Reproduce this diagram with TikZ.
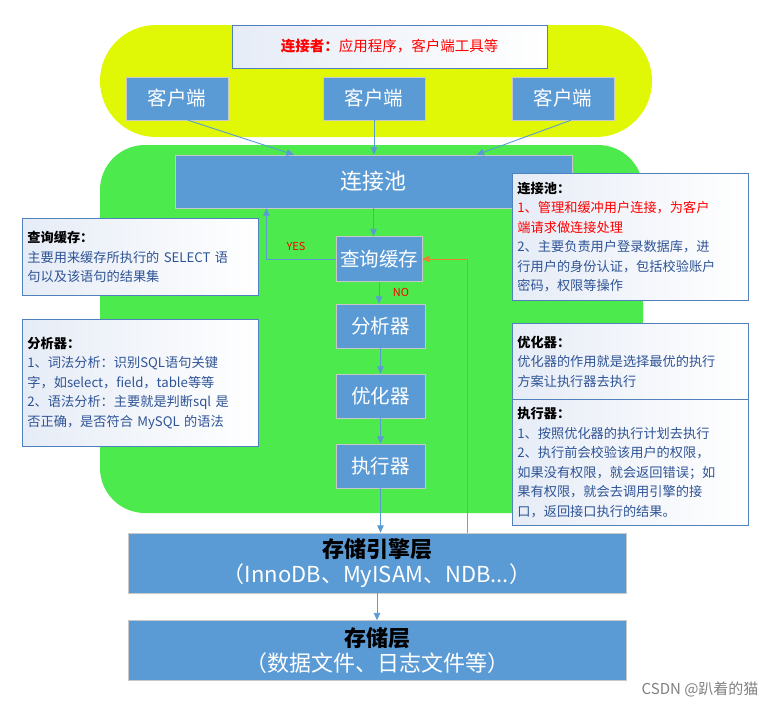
\documentclass[tikz,border=0pt]{standalone}
\usepackage{fontspec}
\setmainfont{Noto Sans CJK SC}
\usepackage{tikz}
\usetikzlibrary{arrows.meta,positioning}

\definecolor{boxblue}{RGB}{91,155,213}
\definecolor{boxedge}{RGB}{200,200,200}
\definecolor{ybg}{RGB}{224,247,6}
\definecolor{gbg}{RGB}{76,234,76}
\definecolor{noteedge}{RGB}{79,129,189}
\definecolor{notetext}{RGB}{47,84,150}
\definecolor{notefill}{RGB}{230,236,246}
\definecolor{retline}{RGB}{237,125,49}

\newcommand{\notehd}[1]{{\bfseries\color{black}#1}}

\begin{document}
\begin{tikzpicture}[x=1pt,y=-1pt,
  >={Triangle[length=7.5pt,width=6.5pt]},
  blk/.style={draw=boxedge,fill=boxblue,text=white,inner sep=2pt,
    font=\fontsize{19.5}{24}\selectfont},
  layer/.style={blk,minimum width=498pt,minimum height=60pt,
    font=\fontsize{22}{25}\selectfont,align=center},
  note/.style={draw=noteedge,line width=0.8pt,left color=notefill,right color=white,
    anchor=north west,align=left,text=notetext,inner sep=5pt,
    text width=226pt,font=\fontsize{13.2}{19.5}\selectfont},
  flow/.style={->,draw=boxblue,line width=0.9pt},
  lbl/.style={text=red,font=\fontsize{11}{13}\selectfont}]

\useasboundingbox (0,0) rectangle (775,707);

% background areas
\fill[ybg,rounded corners=55.9pt] (100,25) rectangle (652,137);
\fill[gbg,rounded corners=45pt] (100,145) rectangle (643,513);

% connector layer
\node[draw=noteedge,line width=0.8pt,left color=notefill,right color=white,
  minimum width=315pt,minimum height=43pt,text=red,
  font=\fontsize{14.5}{17}\selectfont] (who) at (389.5,46.5)
  {{\bfseries 连接者：}应用程序，客户端工具等};
\node[blk,minimum width=102pt,minimum height=43pt] (cli1) at (177,98.5) {客户端};
\node[blk,minimum width=102pt,minimum height=43pt] (cli2) at (374,98.5) {客户端};
\node[blk,minimum width=102pt,minimum height=43pt] (cli3) at (563,98.5) {客户端};

% server layer
\node[blk,minimum width=397pt,minimum height=53pt,
  font=\fontsize{22}{25}\selectfont] (pool) at (373.5,181.5) {连接池};
\node[blk,minimum width=86pt,minimum height=45pt] (cache) at (379,259) {查询缓存};
\node[blk,minimum width=89pt,minimum height=44pt] (parser) at (380.5,326) {分析器};
\node[blk,minimum width=89pt,minimum height=44pt] (optim) at (380.5,396) {优化器};
\node[blk,minimum width=89pt,minimum height=44pt] (exec) at (380.5,466) {执行器};

% storage
\node[layer] (engine) at (377,563)
  {{\bfseries\color{black}存储引擎层}\\（InnoDB、MyISAM、NDB...）};
\node[layer] (store) at (377,650.5)
  {{\bfseries\color{black}存储层}\\（数据文件、日志文件等）};

\draw[flow] ([xshift=11pt]cli1.south) -- ([xshift=-79.5pt]pool.north);
\draw[flow] (cli2.south) -- (cli2.south |- pool.north);
\draw[flow] ([xshift=8pt]cli3.south) -- ([xshift=103pt]pool.north);

\draw[flow] (pool.south) -- (pool.south |- cache.north);
\draw[flow] (cache.west) -| ([xshift=-107pt]pool.south);
\draw[flow] (cache.south) -- (cache.south |- parser.north);
\draw[flow] (parser) -- (optim);
\draw[flow] (optim) -- (exec);
\draw[flow] (exec.south) -- (exec.south |- engine.north);
\draw[flow] (engine.south) -- (store.north);

\coordinate (back) at (467,533);
\draw[->,draw=retline,line width=0.8pt] (back) |- (cache.east);

\node[lbl] (yes) at (296,246) {YES};
\node[lbl] (no) at (401,292) {NO};

% notes
\node[note,minimum height=77pt] (ncache) at (22,218)
  {\notehd{查询缓存：}\\
   主要用来缓存所执行的 SELECT 语\\
   句以及该语句的结果集};
\node[note,minimum height=127pt] (nparse) at (22,319)
  {\notehd{分析器：}\\
   1、词法分析：识别SQL语句关键\\
   字，如select，field，table等等\\
   2、语法分析：主要就是判断sql 是\\
   否正确，是否符合 MySQL 的语法};
\node[note,minimum height=127pt] (npool) at (512,173)
  {\notehd{连接池：}\\
   {\color{red}1、管理和缓冲用户连接，为客户}\\
   {\color{red}端请求做连接处理}\\
   2、主要负责用户登录数据库，进\\
   行用户的身份认证，包括校验账户\\
   密码，权限等操作};
\node[note,minimum height=76pt] (noptim) at (512,323)
  {\notehd{优化器：}\\
   优化器的作用就是选择最优的执行\\
   方案让执行器去执行};
\node[note,minimum height=126pt] (nexec) at (512,399)
  {\notehd{执行器：}\\
   1、按照优化器的执行计划去执行\\
   2、执行前会校验该用户的权限，\\
   如果没有权限，就会返回错误；如\\
   果有权限，就会去调用引擎的接\\
   口，返回接口执行的结果。};

\node[text=gray,anchor=east,font=\fontsize{15}{17}\selectfont] (mark) at (762,689)
  {CSDN @趴着的猫};
\end{tikzpicture}
\end{document}
